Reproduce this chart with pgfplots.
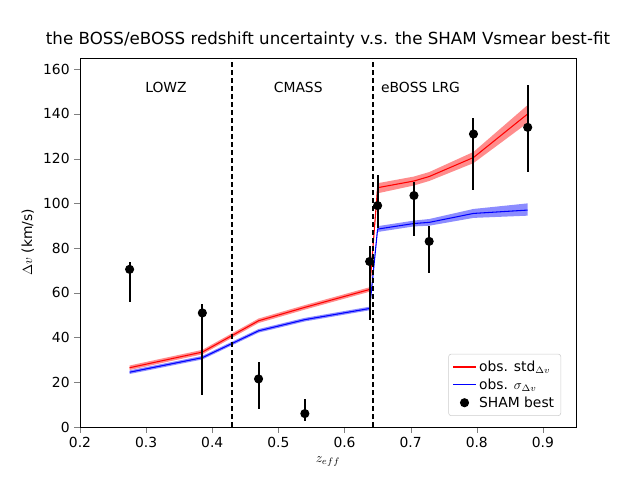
\documentclass[border=0pt]{standalone}
\usepackage{pgfplots}
\pgfplotsset{compat=1.18}
\usepgfplotslibrary{fillbetween}
\usepackage{fontspec}
\setmainfont{DejaVu Sans}
\begin{document}
\begin{tikzpicture}
\begin{axis}[at={(0,0)},anchor=south west,scale only axis,width=372pt,height=276.75pt,
 xmin=0.2,xmax=0.95,ymin=0,ymax=165,
 xtick={0.2,0.3,0.4,0.5,0.6,0.7,0.8,0.9},ytick={0,20,40,60,80,100,120,140,160},
 /pgf/number format/assume math mode=true,
 tick label style={font=\fontsize{10.4}{12}\selectfont},
 label style={font=\fontsize{10.4}{12}\selectfont},
 xticklabel style={/pgf/number format/fixed,/pgf/number format/precision=1,/pgf/number format/fixed zerofill},
 xtick pos=bottom,ytick pos=left,
 xlabel={$z_{eff}$},ylabel={$\Delta v$ (km/s)},
 title={the BOSS/eBOSS redshift uncertainty v.s. the SHAM Vsmear best-fit},
 title style={font=\fontsize{12.5}{14}\selectfont,yshift=-2pt},
 legend pos=south east,legend cell align=left,
 legend style={font=\fontsize{10.4}{13}\selectfont,rounded corners=2pt,draw=black!20,inner sep=3pt},
 tick align=outside]
\addplot[name path=ru,draw=none,forget plot] coordinates {(0.275,27.5)(0.385,34.5)(0.47,48.5)(0.54,54.5)(0.638,62.5)(0.65,109)(0.705,112)(0.728,114)(0.795,123)(0.877,144)};
\addplot[name path=rl,draw=none,forget plot] coordinates {(0.275,25.5)(0.385,32.5)(0.47,46.5)(0.54,52.5)(0.638,60.5)(0.65,104.5)(0.705,108)(0.728,110)(0.795,118)(0.877,136)};
\addplot[red,opacity=0.45,forget plot] fill between[of=ru and rl];
\addplot[name path=bu,draw=none,forget plot] coordinates {(0.275,25.3)(0.385,31.8)(0.47,43.8)(0.54,48.8)(0.638,53.8)(0.65,89.8)(0.705,92.3)(0.728,93)(0.795,97.5)(0.877,100)};
\addplot[name path=bl,draw=none,forget plot] coordinates {(0.275,23.7)(0.385,30.2)(0.47,42.2)(0.54,47.2)(0.638,52.2)(0.65,87.2)(0.705,89.7)(0.728,90)(0.795,93.5)(0.877,94.5)};
\addplot[blue,opacity=0.45,forget plot] fill between[of=bu and bl];
\addplot[red,thick,forget plot] coordinates {(0.275,26.5)(0.385,33.5)(0.47,47.5)(0.54,53.5)(0.638,61.5)(0.65,107)(0.705,110)(0.728,112)(0.795,120.5)(0.877,140)};
\addplot[blue,thick,forget plot] coordinates {(0.275,24.5)(0.385,31)(0.47,43)(0.54,48)(0.638,53)(0.65,88.5)(0.705,91)(0.728,91.5)(0.795,95.5)(0.877,97)};
\addlegendimage{red,thick}
\addlegendentry{obs. std$_{\Delta v}$}
\addlegendimage{blue,thick}
\addlegendentry{obs. $\sigma_{\Delta v}$}
\addplot[black,only marks,mark=*,mark size=3pt,thick,error bars/.cd,y dir=both,y explicit,error bar style={line width=1.5pt},error mark=none] coordinates {
(0.275,70.5) -= (0,14.5) += (0,3.5)
(0.385,51) -= (0,36.5) += (0,4)
(0.47,21.5) -= (0,13.5) += (0,7.5)
(0.54,6) -= (0,3.5) += (0,6.5)
(0.638,74) -= (0,26) += (0,7)
(0.65,99) -= (0,10) += (0,13.5)
(0.705,103.5) -= (0,18) += (0,6)
(0.728,83) -= (0,14) += (0,7)
(0.795,131) -= (0,25) += (0,7)
(0.877,134) -= (0,20) += (0,19)};
\addlegendentry{SHAM best}
\draw[black,line width=1.1pt,dash pattern=on 4pt off 2pt] (axis cs:0.43,0) -- (axis cs:0.43,165);
\draw[black,line width=1.1pt,dash pattern=on 4pt off 2pt] (axis cs:0.643,0) -- (axis cs:0.643,165);
\node[font=\fontsize{10.4}{12}\selectfont] at (axis cs:0.33,152) {LOWZ};
\node[font=\fontsize{10.4}{12}\selectfont] at (axis cs:0.53,152) {CMASS};
\node[font=\fontsize{10.4}{12}\selectfont] at (axis cs:0.715,152) {eBOSS LRG};
\end{axis}
\useasboundingbox (-60pt,-39.75pt) rectangle (420pt,320.25pt);
\end{tikzpicture}
\end{document}
